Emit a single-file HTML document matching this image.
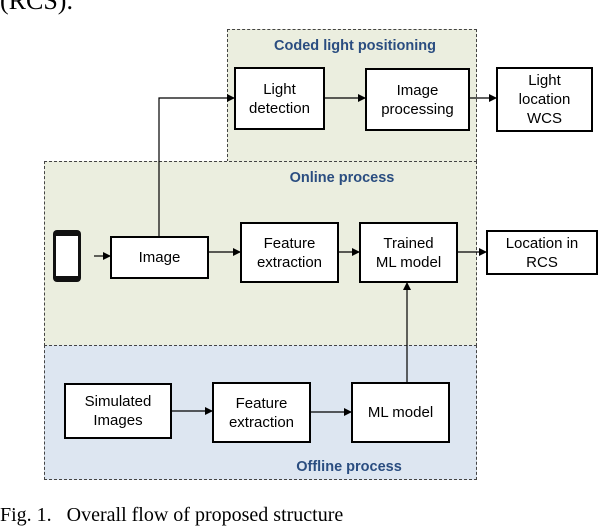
<!DOCTYPE html>
<html><head><style>
body{margin:0;width:600px;height:530px;background:#fff;position:relative;overflow:hidden;font-family:"Liberation Sans",sans-serif}
.a{position:absolute}
.b{position:absolute;border:2.5px solid #000;background:#fff;box-sizing:border-box;display:flex;align-items:center;justify-content:center;text-align:center;font-size:15px;line-height:19px}
.g{position:absolute;border:1.2px dashed #444;box-sizing:border-box}
.t{position:absolute;color:#2a4d80;font-weight:bold;font-size:14.5px;transform:translateX(-50%);white-space:nowrap}
</style></head><body>
<div class="a" style="left:0;top:-14px;font-family:'Liberation Serif',serif;font-size:26px">(RCS).</div>
<div class="g" style="left:227px;top:29px;width:250px;height:133px;background:#ebeedf"></div>
<div class="g" style="left:44px;top:161px;width:433px;height:185px;background:#ebeedf"></div>
<div class="g" style="left:44px;top:345px;width:433px;height:135px;background:#dde6f1"></div>
<div class="t" style="left:355px;top:38px">Coded light positioning</div>
<div class="t" style="left:342px;top:170px">Online process</div>
<div class="t" style="left:349px;top:459px">Offline process</div>
<div class="b" style="left:234px;top:67px;width:91px;height:63px">Light<br>detection</div>
<div class="b" style="left:365px;top:68px;width:105px;height:63px">Image<br>processing</div>
<div class="b" style="left:496px;top:67px;width:97px;height:65px">Light<br>location<br>WCS</div>
<div class="b" style="left:110px;top:236px;width:99px;height:43px">Image</div>
<div class="b" style="left:240px;top:222px;width:99px;height:61px">Feature<br>extraction</div>
<div class="b" style="left:359px;top:222px;width:99px;height:61px">Trained<br>ML model</div>
<div class="b" style="left:486px;top:230px;width:112px;height:45px">Location in<br>RCS</div>
<div class="b" style="left:64px;top:383px;width:108px;height:56px">Simulated<br>Images</div>
<div class="b" style="left:212px;top:382px;width:99px;height:61px">Feature<br>extraction</div>
<div class="b" style="left:351px;top:382px;width:99px;height:61px">ML model</div>
<div class="a" style="left:53px;top:230px;width:28px;height:52px;background:#111;border-radius:4px"></div>
<div class="a" style="left:56px;top:236px;width:22px;height:40px;background:#fff"></div>
<svg class="a" style="left:0;top:0" width="600" height="530">
<defs><marker id="m" markerWidth="8" markerHeight="8" refX="7" refY="4" orient="auto" markerUnits="userSpaceOnUse"><path d="M0,0L8,4L0,8z"/></marker></defs>
<g stroke="#000" stroke-width="1.2" fill="none" marker-end="url(#m)">
<path d="M159,236V98H234"/>
<path d="M325,98H365"/>
<path d="M470,98H496"/>
<path d="M94,256H110"/>
<path d="M209,252H240"/>
<path d="M339,252H359"/>
<path d="M458,252H486"/>
<path d="M172,411H212"/>
<path d="M311,412H351"/>
<path d="M407,382V283"/>
</g></svg>
<div class="a" style="left:0;top:504px;font-family:'Liberation Serif',serif;font-size:20px">Fig. 1.&nbsp;&nbsp; Overall flow of proposed structure</div>
</body></html>
